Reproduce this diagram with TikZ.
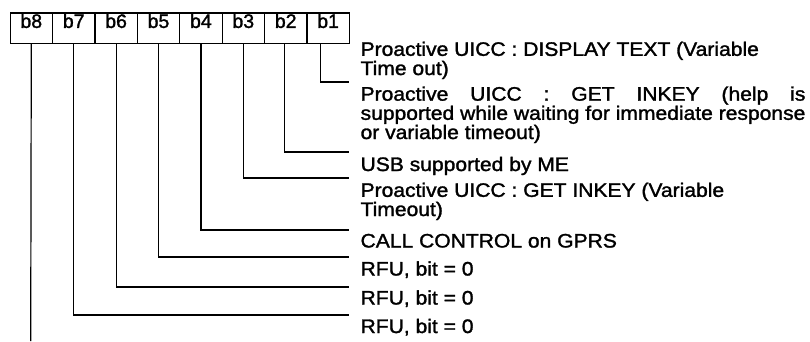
\documentclass[tikz,border=0pt]{standalone}
\usepackage{fontspec}
\setmainfont{Liberation Sans}[FakeStretch=1.08,FakeBold=1.5]
\newfontfamily\bitfont{Liberation Sans}[FakeBold=1.5]
\newlength{\wrow}
\begin{document}
\settowidth{\wrow}{\fontsize{19.5}{17.5}\selectfont supported while waiting for immediate response}%
\begin{tikzpicture}[x=1pt,y=-1pt,line width=1.2pt,
  bitbox/.style={draw, minimum width=42.4pt, minimum height=30.4pt, inner sep=0pt,
    text height=15pt, text depth=15.4pt, anchor=north west,
    font=\bitfont\fontsize{19.5}{20}\selectfont},
  entry/.style={anchor=base west, inner sep=0pt, align=left,
    font=\fontsize{19.5}{17.5}\selectfont},
  conn/.style={line width=1.2pt}]
\useasboundingbox (0,0) rectangle (810,341);
% bit boxes
\node[bitbox] (b8) at (9.5,12.3) {b8};
\node[bitbox] (b7) at (51.9,12.3) {b7};
\node[bitbox] (b6) at (94.3,12.3) {b6};
\node[bitbox] (b5) at (136.7,12.3) {b5};
\node[bitbox] (b4) at (179.1,12.3) {b4};
\node[bitbox] (b3) at (221.5,12.3) {b3};
\node[bitbox] (b2) at (263.9,12.3) {b2};
\node[bitbox] (b1) at (306.3,12.3) {b1};
% line ends
\coordinate (e1) at (348.7,82);
\coordinate (e2) at (348.7,152);
\coordinate (e3) at (348.7,178);
\coordinate (e4) at (348.7,230);
\coordinate (e5) at (348.7,257);
\coordinate (e6) at (348.7,287);
\coordinate (e7) at (348.7,315);
\coordinate (e8) at (30.7,341);
% texts (anchored at the baseline of their last line)
\node[entry] (t1) at (360,75) {Proactive UICC : DISPLAY TEXT (Variable\\Time out)};
\node[entry] (t2) at (360,139) {\makebox[\wrow][s]{Proactive UICC : GET INKEY (help is}\\supported while waiting for immediate response\\or variable timeout)};
\node[entry] (t3) at (360,171) {USB supported by ME};
\node[entry] (t4) at (360,216) {Proactive UICC : GET INKEY (Variable\\Timeout)};
\node[entry] (t5) at (360,247.5) {CALL CONTROL on GPRS};
\node[entry] (t6) at (360,275.5) {RFU, bit = 0};
\node[entry] (t7) at (360,304.5) {RFU, bit = 0};
\node[entry] (t8) at (360,333) {RFU, bit = 0};
% connectors
\draw[conn] ([xshift=-7.5pt]b1.south) |- (e1);
\draw[conn] ([xshift=-1pt]b2.south) |- (e2);
\draw[conn] (b3.south) |- (e3);
\draw[conn] (b4.south) |- (e4);
\draw[conn] (b5.south) |- (e5);
\draw[conn] (b6.south) |- (e6);
\draw[conn] (b7.south) |- (e7);
\draw[conn] (b8.south) -- (e8);
\end{tikzpicture}
\end{document}
